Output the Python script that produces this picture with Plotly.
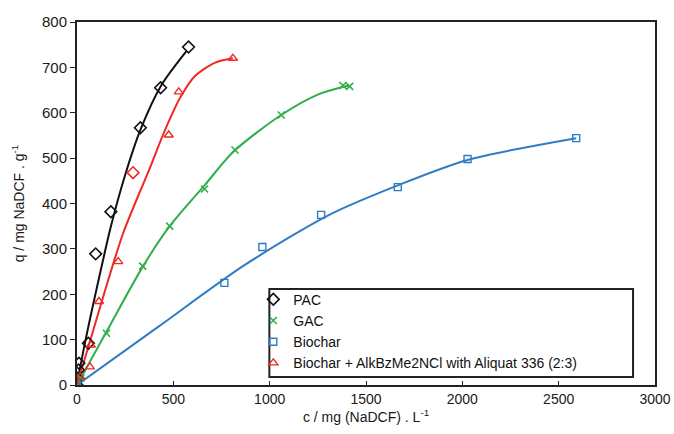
import plotly.graph_objects as go

# ---- data ----
pac_c = [0, 3, 8, 10, 59, 97, 176, 291, 329, 434, 579]
pac_q = [0, 15, 33, 48, 92, 289, 382, 468, 567, 655, 745]
pac_fit_c = [0, 40, 143, 176, 248, 329, 434, 567]
pac_fit_q = [0, 90, 290, 350, 460, 562, 658, 735]

gac_c = [0, 20, 153, 341, 481, 662, 820, 1060, 1380, 1415]
gac_q = [0, 15, 114, 262, 350, 432, 518, 595, 660, 658]
gac_fit_c = [0, 150, 343, 481, 662, 814, 1060, 1250, 1410]
gac_fit_q = [0, 115, 262, 350, 440, 515, 595, 640, 660]

bio_c = [0, 765, 962, 1267, 1665, 2027, 2591]
bio_q = [0, 225, 304, 375, 436, 498, 544]
bio_fit_c = [0, 421, 869, 1309, 1665, 2027, 2591]
bio_fit_q = [0, 128, 264, 375, 440, 496, 544]

mix_c = [0, 16, 67, 72, 114, 214, 476, 528, 809]
mix_q = [0, 18, 40, 88, 184, 272, 551, 646, 720]
mix_fit_c = [0, 120, 240, 378, 455, 538, 610, 714, 809]
mix_fit_q = [0, 172, 335, 478, 560, 635, 680, 710, 720]

names = ["PAC", "GAC", "Biochar", "Biochar + AlkBzMe2NCl with Aliquat 336 (2:3)"]
x_ticks = [0, 500, 1000, 1500, 2000, 2500, 3000]
y_ticks = [0, 100, 200, 300, 400, 500, 600, 700, 800]

BLACK = "#111111"
GREEN = "#2fae4a"
BLUE = "#2f7cc6"
RED = "#ee2b24"
FAM = "Liberation Sans, Arial, sans-serif"

fig = go.Figure()

# fitted curves (no legend)
for fc, fq, col in [(pac_fit_c, pac_fit_q, BLACK), (gac_fit_c, gac_fit_q, GREEN),
                    (bio_fit_c, bio_fit_q, BLUE), (mix_fit_c, mix_fit_q, RED)]:
    fig.add_trace(go.Scatter(x=fc, y=fq, mode="lines",
                             line=dict(color=col, width=2, shape="spline", smoothing=0.8),
                             showlegend=False, hoverinfo="skip"))

pac_colors = [BLACK] * len(pac_c)
pac_colors[7] = RED

fig.add_trace(go.Scatter(x=pac_c, y=pac_q, mode="markers", name=names[0],
                         marker=dict(symbol="diamond-open", size=9, color=pac_colors,
                                     line=dict(width=1.6))))
fig.add_trace(go.Scatter(x=gac_c, y=gac_q, mode="markers", name=names[1],
                         marker=dict(symbol="x-thin-open", size=7, color=GREEN,
                                     line=dict(width=1.6, color=GREEN))))
fig.add_trace(go.Scatter(x=bio_c, y=bio_q, mode="markers", name=names[2],
                         marker=dict(symbol="square-open", size=7, color=BLUE,
                                     line=dict(width=1.4))))
fig.add_trace(go.Scatter(x=mix_c, y=mix_q, mode="markers", name=names[3],
                         marker=dict(symbol="triangle-up-open", size=8, color=RED,
                                     line=dict(width=1.4))))

fig.update_layout(
    width=674, height=434,
    margin=dict(l=77, r=19, t=22, b=49),
    paper_bgcolor="white", plot_bgcolor="white",
    font=dict(family=FAM, size=14, color="#1a1a1a"),
    showlegend=True,
    legend=dict(x=0.305, y=0.279, xanchor="left", yanchor="top",
                bgcolor="rgba(0,0,0,0)", borderwidth=0, itemwidth=30,
                font=dict(family=FAM, size=14, color="#111")),
    shapes=[dict(type="rect", xref="paper", yref="paper", x0=0.3328, x1=0.962, y0=0.022, y1=0.2645,
                 line=dict(color="#222", width=2), fillcolor="rgba(0,0,0,0)")],
)

fig.update_xaxes(range=[0, 3000], tickvals=x_ticks, ticktext=[str(v) for v in x_ticks],
                 showgrid=False, zeroline=False, showline=True, linecolor="#222", linewidth=2,
                 mirror=True, ticks="inside", ticklen=4, tickcolor="#222", automargin=False,
                 tickfont=dict(size=14),
                 title=dict(text="c / mg (NaDCF) . L<sup>-1</sup>", font=dict(size=14), standoff=4))
fig.update_yaxes(range=[0, 800], tickvals=y_ticks, ticktext=[str(v) for v in y_ticks],
                 showgrid=False, zeroline=False, showline=True, linecolor="#222", linewidth=2,
                 mirror=True, ticks="outside", ticklen=5, tickcolor="#222", automargin=False,
                 tickfont=dict(size=15),
                 title=dict(text="q / mg NaDCF . g<sup>-1</sup>", font=dict(size=14), standoff=14))

fig.write_html("out.html", config={"displayModeBar": False},
               post_script="document.body.style.margin='0px';document.body.style.overflow='hidden';")
